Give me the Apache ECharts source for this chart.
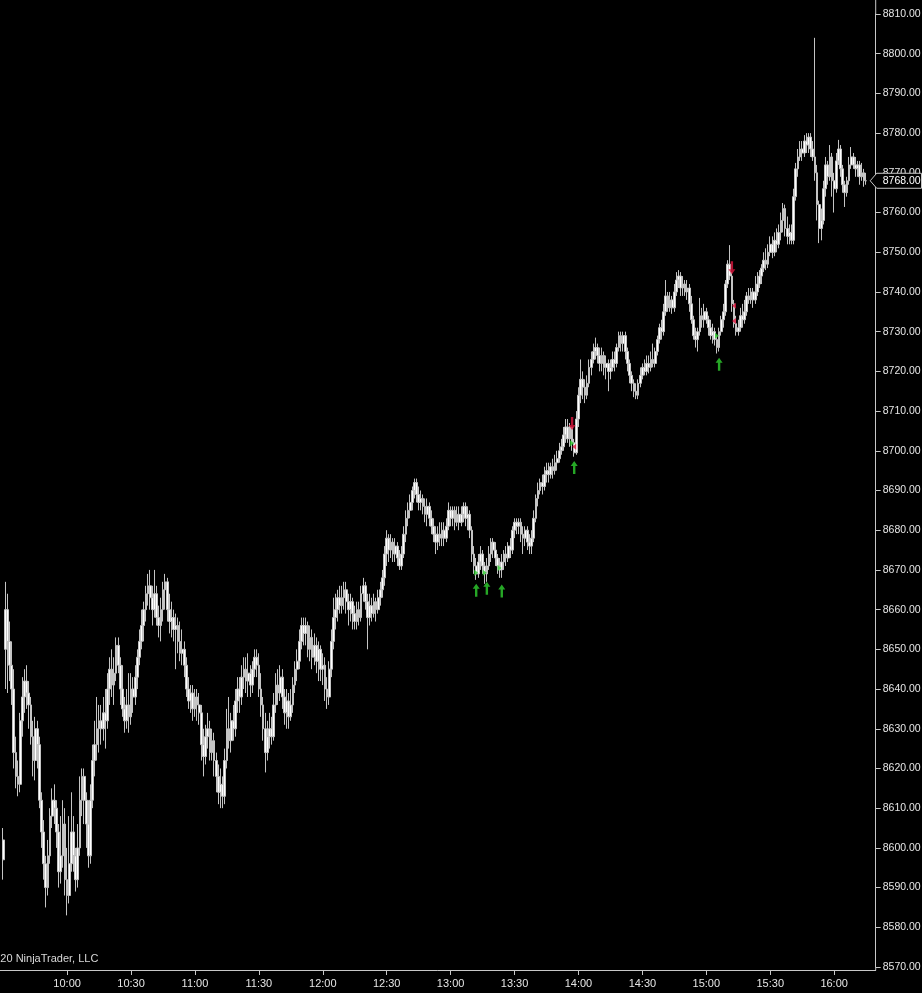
<!DOCTYPE html>
<html>
<head>
<meta charset="utf-8">
<script src="https://cdn.jsdelivr.net/npm/echarts@6/dist/echarts.min.js"></script>
<style>
html,body{margin:0;padding:0;background:#000;}
#chart{width:922px;height:993px;}
</style>
</head>
<body>
<div id="chart"></div>
<script>
// Category axis: one minute per bar, 09:29 (empty) .. 16:19 (empty right margin)
const startMinute = 9 * 60 + 29;
const endMinute = 16 * 60 + 19;
const categories = [];
for (let m = startMinute; m <= endMinute; m++) {
  const h = Math.floor(m / 60), mm = m % 60;
  categories.push((h < 10 ? '0' : '') + h + ':' + (mm < 10 ? '0' : '') + mm);
}
const tickLabels = ['10:00','10:30','11:00','11:30','12:00','12:30','13:00','13:30','14:00','14:30','15:00','15:30','16:00'];

// 1-minute bars from 09:30 to 16:15
const opens = [8597,8650,8660,8652,8646,8640,8624,8618,8616,8632,8638,8642,8639,8636,8628,8622,8630,8626,8612,8604,8596,8590,8598,8608,8612,8610,8604,8594,8598,8606,8592,8588,8596,8604,8598,8592,8600,8612,8618,8612,8606,8598,8612,8622,8626,8630,8632,8630,8634,8632,8640,8645,8641,8644,8651,8646,8640,8635,8632,8636,8633,8640,8638,8643,8648,8652,8656,8660,8664,8666,8663,8660,8664,8658,8656,8660,8665,8667,8660,8657,8658,8655,8656,8652,8649,8650,8646,8640,8637,8639,8635,8638,8636,8634,8626,8623,8628,8630,8624,8627,8622,8618,8614,8616,8613,8622,8630,8627,8632,8630,8637,8640,8638,8643,8645,8642,8644,8641,8645,8648,8646,8640,8636,8630,8624,8628,8630,8628,8636,8641,8639,8643,8638,8634,8637,8633,8636,8641,8645,8647,8652,8656,8654,8656,8650,8653,8648,8651,8647,8650,8645,8646,8640,8638,8645,8652,8658,8660,8663,8661,8663,8665,8662,8660,8662,8659,8657,8660,8658,8664,8666,8662,8658,8661,8659,8662,8660,8663,8665,8668,8674,8678,8675,8677,8674,8676,8673,8671,8674,8679,8683,8685,8687,8690,8692,8689,8687,8688,8686,8684,8686,8683,8681,8679,8677,8679,8678,8680,8678,8681,8685,8683,8685,8682,8684,8682,8684,8686,8683,8684,8680,8674,8671,8669,8672,8674,8671,8669,8671,8674,8677,8675,8673,8671,8670,8672,8674,8673,8676,8675,8680,8682,8681,8682,8679,8678,8680,8677,8676,8678,8683,8688,8690,8692,8691,8694,8695,8694,8696,8695,8697,8698,8700,8701,8704,8706,8703,8706,8702,8699.5,8708,8714,8718,8716,8714,8717,8721,8723,8725,8726,8724,8722,8724,8721,8722,8720,8721,8723,8722,8726,8729,8727,8729,8725,8722,8719,8717,8715,8714,8717,8719,8721,8720,8722,8721,8723,8722,8725,8728,8731,8730,8735,8739,8736,8738,8736,8740,8743,8744,8741,8742,8740,8741,8737,8733,8729,8728,8730,8734,8733,8735,8733,8731,8729,8730,8728,8726,8730,8733,8735,8742,8747,8744,8737,8732,8730,8731,8734,8733,8735,8739,8738,8740,8738,8740,8742,8744,8746,8748,8747,8750,8752,8750,8753,8752,8755,8758,8761,8756,8754,8755,8753,8764,8771,8774,8776,8775,8778,8777,8779,8776,8774,8770,8762,8756,8758,8766,8772,8769,8774,8768,8766,8773,8776,8771,8767,8765,8768,8772,8774,8772,8771,8772,8769,8770,8768];
const closes = [8602,8660,8652,8646,8640,8624,8618,8616,8632,8638,8642,8639,8636,8628,8622,8630,8626,8612,8604,8596,8590,8598,8608,8612,8610,8604,8594,8598,8606,8592,8588,8596,8604,8598,8592,8600,8612,8618,8612,8606,8598,8612,8622,8626,8630,8632,8630,8634,8632,8640,8645,8641,8644,8651,8646,8640,8635,8632,8636,8633,8640,8638,8643,8648,8652,8656,8660,8664,8666,8663,8660,8664,8658,8656,8660,8665,8667,8660,8657,8658,8655,8656,8652,8649,8650,8646,8640,8637,8639,8635,8638,8636,8634,8626,8623,8628,8630,8624,8627,8622,8618,8614,8616,8613,8622,8630,8627,8632,8630,8637,8640,8638,8643,8645,8642,8644,8641,8645,8648,8646,8640,8636,8630,8624,8628,8630,8628,8636,8641,8639,8643,8638,8634,8637,8633,8636,8641,8645,8647,8652,8656,8654,8656,8650,8653,8648,8651,8647,8650,8645,8646,8640,8638,8645,8652,8658,8660,8663,8661,8663,8665,8662,8660,8662,8659,8657,8660,8658,8664,8666,8662,8658,8661,8659,8662,8660,8663,8665,8668,8674,8678,8675,8677,8674,8676,8673,8671,8674,8679,8683,8685,8687,8690,8692,8689,8687,8688,8686,8684,8686,8683,8681,8679,8677,8679,8678,8680,8678,8681,8685,8683,8685,8682,8684,8682,8684,8686,8683,8684,8680,8674,8671,8669,8672,8674,8671,8669,8671,8674,8677,8675,8673,8671,8670,8672,8674,8673,8676,8675,8680,8682,8681,8682,8679,8678,8680,8677,8676,8678,8683,8688,8690,8692,8691,8694,8695,8694,8696,8695,8697,8698,8700,8701,8704,8706,8703,8706,8702,8699.5,8708,8714,8718,8716,8714,8717,8721,8723,8725,8726,8724,8722,8724,8721,8722,8720,8721,8723,8722,8726,8729,8727,8729,8725,8722,8719,8717,8715,8714,8717,8719,8721,8720,8722,8721,8723,8722,8725,8728,8731,8730,8735,8739,8736,8738,8736,8740,8743,8744,8741,8742,8740,8741,8737,8733,8729,8728,8730,8734,8733,8735,8733,8731,8729,8730,8728,8726,8730,8733,8735,8742,8747,8744,8737,8732,8730,8731,8734,8733,8735,8739,8738,8740,8738,8740,8742,8744,8746,8748,8747,8750,8752,8750,8753,8752,8755,8758,8761,8756,8754,8755,8753,8764,8771,8774,8776,8775,8778,8777,8779,8776,8774,8770,8762,8756,8758,8766,8772,8769,8774,8768,8766,8773,8776,8771,8767,8765,8768,8772,8774,8772,8771,8772,8769,8770,8768,8768];
const highs = [8605,8667,8664,8657,8652,8645,8628,8622,8634,8643,8645,8646,8642,8638,8632,8633,8632,8628,8614,8607,8598,8602,8610,8615,8616,8612,8606,8608,8612,8610,8600,8608,8614,8608,8600,8606,8618,8620,8620,8614,8612,8616,8626,8632,8638,8636,8636,8638,8640,8644,8648,8650,8648,8653,8653,8648,8646,8638,8640,8644,8644,8643,8646,8650,8655,8660,8662,8666,8669,8670,8666,8670,8666,8661,8663,8667,8669,8668,8664,8662,8660,8659,8658,8657,8655,8652,8648,8643,8641,8641,8640,8640,8639,8636,8630,8631,8634,8632,8630,8629,8624,8621,8620,8618,8625,8635,8638,8634,8636,8640,8643,8643,8646,8648,8648,8649,8646,8647,8650,8650,8649,8644,8638,8634,8632,8634,8633,8639,8644,8645,8646,8645,8640,8640,8639,8640,8643,8647,8650,8655,8658,8658,8658,8657,8656,8655,8654,8653,8652,8651,8649,8648,8643,8647,8655,8663,8664,8665,8666,8666,8667,8667,8664,8664,8663,8661,8662,8662,8666,8668,8667,8664,8664,8663,8664,8663,8665,8667,8670,8676,8680,8679,8679,8678,8678,8677,8675,8676,8681,8685,8687,8689,8691,8693,8693,8691,8690,8689,8688,8688,8687,8685,8683,8681,8681,8682,8682,8682,8683,8687,8686,8686,8686,8686,8686,8686,8687,8687,8686,8685,8681,8676,8673,8674,8676,8675,8672,8673,8676,8678,8678,8677,8674,8673,8674,8675,8676,8677,8678,8681,8683,8683,8683,8683,8681,8681,8681,8679,8680,8685,8689,8692,8693,8694,8696,8697,8697,8697,8698,8699,8700,8702,8703,8706,8708,8708,8707,8706,8703,8710,8716,8723,8720,8718,8719,8723,8725,8727,8728.5,8727,8726,8726,8725,8724,8723,8723,8725,8725,8727,8730,8730,8730,8730,8726,8723,8720,8718,8717,8718,8721,8722,8723,8724,8724,8725,8727,8726,8729,8732,8733,8737,8743,8740,8740,8739,8742,8745,8745.5,8745,8744,8743,8743,8742,8739,8734,8731,8731,8738.5,8736,8737,8736,8734,8733,8732,8731,8729,8731,8734,8737,8743,8748,8751.8,8745,8738,8734,8733,8736,8737,8738,8740,8741,8741,8741,8744,8745,8745.5,8747,8750,8751,8752,8754,8754,8755,8756,8757,8760,8762.4,8762,8759,8757,8757,8766,8772.5,8776,8778,8778,8779.5,8780,8780,8780,8778,8804,8772,8763,8761,8768,8774,8773,8777,8775,8770,8775,8778.3,8777,8772,8768,8769,8774,8776.5,8775,8774,8773,8773,8772.5,8771,8770];
const lows = [8592,8640,8639,8642,8636,8620,8615,8613,8614,8628,8634,8635,8630,8626,8618,8617,8620,8610,8600,8592,8585,8588,8596,8605,8606,8600,8590,8591,8595,8588,8583,8586,8594,8594,8589,8590,8598,8608,8606,8600,8595,8596,8610,8618,8622,8624,8626,8627,8625,8630,8636,8638,8636,8642,8644,8636,8633,8629,8630,8629,8631,8634,8636,8640,8646,8650,8652,8657,8661,8660,8656,8658,8656,8653,8652,8657,8660,8657,8654,8653,8652,8645,8649,8647,8646,8643,8638,8635,8634,8632,8633,8632,8631,8622,8618,8621,8625,8622,8622,8618,8614,8611,8610,8610,8611,8620,8625,8624,8627,8628,8634,8634,8636,8640,8639,8638,8638,8639,8643,8643,8638,8633,8627,8619,8622,8625,8626,8627,8634,8636,8637,8635,8631,8630,8630,8632,8634,8639,8642,8645,8650,8651,8651,8648,8647,8645,8646,8644,8642,8642,8641,8637,8635,8636,8643,8650,8655,8657,8659,8659,8660,8659,8656,8657,8655,8655,8655,8656,8657,8662,8660,8650,8656,8657,8658,8657,8659,8661,8663,8666,8671,8672,8673,8672,8672,8671,8670,8670,8673,8677,8681,8683,8685,8688,8687,8685,8685,8684,8682,8681,8681,8679,8677,8674,8675,8676,8676,8676,8677,8680,8681,8681,8680,8681,8680,8681,8682,8681,8680,8678,8672,8669,8667.5,8668,8670,8669,8666.5,8667,8670,8672,8673,8671,8669,8668,8668,8670,8671,8672,8673,8674,8678,8679,8679,8677,8674,8676,8675,8674,8674,8677,8682,8686,8689,8689,8690,8692,8692,8693,8693,8694,8695,8697,8699,8700,8702,8702,8701,8700,8698.5,8699,8706,8712,8713,8712,8713,8716,8719,8722,8723,8722,8720,8720,8719,8718,8715,8718,8720,8720,8721,8725,8725,8725,8723,8720,8717,8715,8713.5,8713,8713,8716,8718,8719,8719,8719.5,8720,8721,8721,8724,8727,8728,8729,8734,8735,8735,8734.5,8735,8739,8741,8739,8739,8739,8738,8735,8732,8728,8726,8725,8729,8731,8731,8732,8729,8728,8727,8726.5,8724.5,8725,8729,8731,8734,8741,8743,8735,8731,8729,8729,8730,8731,8732,8734,8737,8737,8736,8737,8739,8741,8742,8745,8745.5,8746,8749,8748.5,8749,8750,8751,8753,8755,8754,8752,8752,8752,8752,8763,8769,8773,8773,8774,8775,8775,8774,8773,8768,8758,8752.3,8753,8757,8764,8767,8768,8764,8760,8765,8772,8769,8765,8761.4,8764,8767,8771,8771,8769,8769,8767,8768,8766.5,8767];

// Signal markers [time, price]
const buyArrows = [['13:12',8664.9],['13:17',8665.4],['13:24',8664.7],['13:58',8695.8],['15:06',8721.8]];
const sellArrows = [['13:57',8706.9],['15:12',8746.1]];
const buyTriangles = [['13:12',8669.3],['13:16',8669.3],['13:23',8670.5],['13:57',8701.9],['15:05',8729.0]];
const sellTriangles = [['13:58',8701.0],['15:13',8736.5],['15:13',8732.7]];
const lastPrice = 8768;

const candleData = ['-'];
for (let i = 0; i < opens.length; i++) {
  candleData.push([opens[i], closes[i], lows[i], highs[i]]);
}

const chart = echarts.init(document.getElementById('chart'), null, {renderer: 'canvas'});
const labelColor = '#e6e6e6';
const lineColor = '#c8c8c8';
const font = 'Liberation Sans, Arial, sans-serif';

const upArrowPath = 'path://M3.5,0 L7,5 L4.7,5 L4.7,13 L2.3,13 L2.3,5 L0,5 Z';
const downArrowPath = 'path://M2.3,0 L4.7,0 L4.7,8 L7,8 L3.5,13 L0,8 L2.3,8 Z';
const rightTriPath = 'path://M0,0 L5,4 L0,8 Z';
const leftTriPath = 'path://M5,0 L0,4 L5,8 Z';

chart.setOption({
  backgroundColor: '#000000',
  animation: false,
  grid: {left: 0, right: 46.3, top: 14, bottom: 26, containLabel: false, outerBoundsMode: 'none'},
  xAxis: {
    type: 'category',
    data: categories,
    boundaryGap: true,
    offset: 3,
    axisLine: {show: true, lineStyle: {color: lineColor, width: 1}},
    axisTick: {
      show: true, alignWithLabel: true, length: 5,
      lineStyle: {color: lineColor},
      interval: function (idx, val) { return tickLabels.indexOf(val) >= 0; }
    },
    axisLabel: {
      show: true, color: labelColor, fontFamily: font, fontSize: 11, margin: 8,
      interval: function (idx, val) { return tickLabels.indexOf(val) >= 0; }
    },
    splitLine: {show: false}
  },
  yAxis: {
    type: 'value',
    position: 'right',
    min: 8570, max: 8810, interval: 10,
    axisLine: {show: true, lineStyle: {color: lineColor, width: 1}},
    axisTick: {show: true, length: 5, lineStyle: {color: lineColor}},
    axisLabel: {
      color: labelColor, fontFamily: font, fontSize: 10.5, margin: 7,
      formatter: function (v) { return v.toFixed(2); }
    },
    splitLine: {show: false}
  },
  series: [
    {
      type: 'candlestick',
      data: candleData,
      barWidth: 2.2,
      itemStyle: {
        color: '#ffffff', color0: '#ffffff',
        borderColor: '#c4c4c4', borderColor0: '#c4c4c4', borderWidth: 1
      }
    },
    {
      type: 'scatter', data: buyArrows, symbol: upArrowPath, symbolSize: [7, 13],
      itemStyle: {color: '#2fd12f'}, z: 5, silent: true
    },
    {
      type: 'scatter', data: sellArrows, symbol: downArrowPath, symbolSize: [7, 13],
      itemStyle: {color: '#e0163e'}, z: 5, silent: true
    },
    {
      type: 'scatter', data: buyTriangles, symbol: rightTriPath, symbolSize: [4, 6],
      itemStyle: {color: '#2fd12f'}, z: 5, silent: true
    },
    {
      type: 'scatter', data: sellTriangles, symbol: leftTriPath, symbolSize: [4, 6],
      itemStyle: {color: '#e0163e'}, z: 5, silent: true
    }
  ]
});

// Current price flag and extras positioned through the axis scales
const py = chart.convertToPixel({yAxisIndex: 0}, lastPrice);
const axisX = 922 - 46.3;
chart.setOption({
  graphic: [
    {
      type: 'polygon', z: 100,
      shape: {points: [[axisX - 5.5, py], [axisX + 1, py - 7.5], [921.5, py - 7.5], [921.5, py + 7.5], [axisX + 1, py + 7.5]]},
      style: {fill: '#000000', stroke: lineColor, lineWidth: 1}
    },
    {
      type: 'text', z: 101, x: axisX + 7, y: py,
      style: {text: lastPrice.toFixed(2), fill: '#ffffff', font: '10.5px ' + font, textVerticalAlign: 'middle', verticalAlign: 'middle'}
    },
    {
      type: 'line', z: 50,
      shape: {x1: axisX, y1: 0, x2: axisX, y2: 14},
      style: {stroke: lineColor, lineWidth: 1}
    },
    {
      type: 'line', z: 50,
      shape: {x1: axisX, y1: 967, x2: axisX, y2: 970},
      style: {stroke: lineColor, lineWidth: 1}
    },
    {
      type: 'text', z: 100, x: -20, y: 959,
      style: {text: '\u00a92020 NinjaTrader, LLC', fill: '#d8d8d8', font: '11px ' + font, verticalAlign: 'middle', textVerticalAlign: 'middle'}
    }
  ]
});
</script>
</body>
</html>
